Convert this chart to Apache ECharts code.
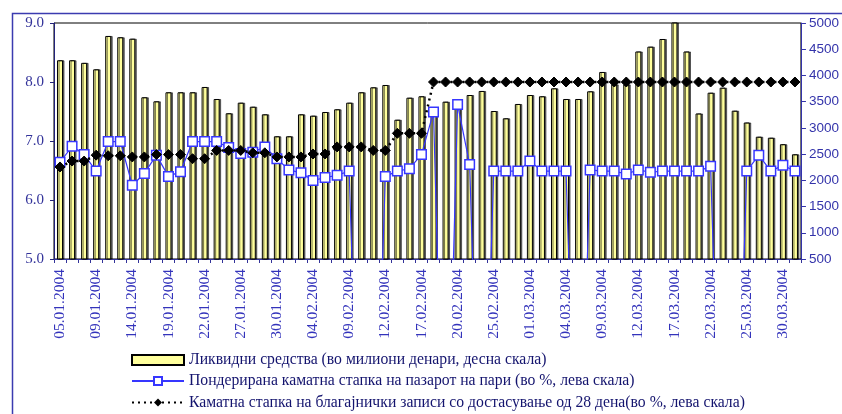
<!DOCTYPE html>
<html>
<head>
<meta charset="utf-8">
<script src="https://cdn.jsdelivr.net/npm/echarts@6/dist/echarts.min.js"></script>
<style>
html,body{margin:0;padding:0;background:#fff;}
#chart{width:842px;height:414px;}
</style>
</head>
<body>
<div id="chart"></div>
<script>
var categories = [
 '05.01.2004','06.01.2004','08.01.2004','09.01.2004','12.01.2004','13.01.2004','14.01.2004','15.01.2004','16.01.2004','19.01.2004',
 '20.01.2004','21.01.2004','22.01.2004','23.01.2004','26.01.2004','27.01.2004','28.01.2004','29.01.2004','30.01.2004',
 '02.02.2004','03.02.2004','04.02.2004','05.02.2004','06.02.2004','09.02.2004','10.02.2004','11.02.2004','12.02.2004','13.02.2004',
 '16.02.2004','17.02.2004','18.02.2004','19.02.2004','20.02.2004','23.02.2004','24.02.2004','25.02.2004','26.02.2004','27.02.2004',
 '01.03.2004','02.03.2004','03.03.2004','04.03.2004','05.03.2004','08.03.2004','09.03.2004','10.03.2004','11.03.2004','12.03.2004',
 '15.03.2004','16.03.2004','17.03.2004','18.03.2004','19.03.2004','22.03.2004','23.03.2004','24.03.2004','25.03.2004','26.03.2004',
 '29.03.2004','30.03.2004','31.03.2004'
];
var liquidity = [
 4290,4290,4240,4117,4753,4728,4701,3584,3507,3679,
 3679,3679,3780,3551,3279,3481,3404,3259,2840,2840,
 3259,3233,3303,3355,3481,3679,3774,3818,3156,3576,
 3603,3320,3500,3450,3627,3704,3322,3183,3456,3627,
 3603,3755,3551,3551,3698,4066,3830,3830,4457,4549,
 4695,5100,4457,3275,3671,3767,3328,3103,2832,2813,
 2689,2497
];
var weightedRate = [
 6.64,6.91,6.77,6.49,6.99,6.99,6.25,6.45,6.76,6.40,
 6.48,6.99,6.99,6.99,6.89,6.79,6.81,6.90,6.70,6.51,
 6.46,6.33,6.38,6.42,6.49,0,0,6.40,6.49,6.53,
 6.77,7.49,0,7.62,6.60,0,6.49,6.49,6.49,6.66,
 6.49,6.49,6.49,0,6.51,6.49,6.49,6.44,6.51,6.47,
 6.49,6.49,6.49,6.49,6.57,0,0,6.49,6.76,6.49,
 6.59,6.49
];
var billRate = [
 6.56,6.66,6.66,6.76,6.75,6.75,6.73,6.73,6.77,6.77,
 6.77,6.70,6.70,6.84,6.84,6.84,6.80,6.80,6.73,6.73,
 6.73,6.78,6.78,6.90,6.90,6.90,6.84,6.84,7.13,7.13,
 7.13,8.00,8.00,8.00,8.00,8.00,8.00,8.00,8.00,8.00,
 8.00,8.00,8.00,8.00,8.00,8.00,8.00,8.00,8.00,8.00,
 8.00,8.00,8.00,8.00,8.00,8.00,8.00,8.00,8.00,8.00,
 8.00,8.00
];
var seriesNames = [
 'Ликвидни средства (во милиони денари, десна скала)',
 'Пондерирана каматна стапка на пазарот на пари (во %, лева скала)',
 'Каматна стапка на благајнички записи со достасување од 28 дена(во %, лева скала)'
];

var axisBlue = '#33339a';
var legendText = {fontFamily: 'Liberation Serif', fontSize: 15.7, lineHeight: 16, color: '#14146e'};
function mkLegend(i, top, icon, h) {
  var l = {
    orient: 'horizontal', left: 131, top: top, itemWidth: 52, itemHeight: h || 12, itemGap: 0, padding: 0,
    textStyle: legendText, data: [seriesNames[i]]
  };
  if (icon) { l.data = [{name: seriesNames[i], icon: icon}]; }
  return l;
}
var chart = echarts.init(document.getElementById('chart'), null, {renderer:'canvas'});
chart.setOption({
  animation: false,
  backgroundColor: '#fff',
  graphic: [{
    type: 'rect', left: 10, top: 11, silent: true, z: -10,
    shape: {x: 0, y: 0, width: 900, height: 500},
    style: {fill: 'none', stroke: '#3b3bb0', lineWidth: 1.5}
  }],
  grid: {left: 54, right: 39, top: 23, bottom: 155, show: true, borderColor: '#000', borderWidth: 1},
  legend: [mkLegend(0, 352, 'rect', 10), mkLegend(1, 373, null, 10), mkLegend(2, 394.5, null, 10)],
  xAxis: {
    type: 'category', data: categories, boundaryGap: true,
    axisLine: {lineStyle: {color: axisBlue, width: 1}},
    axisTick: {show: true, interval: 0, length: 4, lineStyle: {color: axisBlue}},
    axisLabel: {interval: 2, rotate: 90, margin: 10, fontFamily: 'Liberation Serif', fontSize: 15.5, color: '#3333bb'}
  },
  yAxis: [{
    type: 'value', min: 5, max: 9, interval: 1, position: 'left',
    splitLine: {show: false},
    axisLine: {show: true, lineStyle: {color: '#22227a', width: 1}},
    axisTick: {show: true, length: 4, lineStyle: {color: '#22227a'}},
    axisLabel: {formatter: function(v){return v.toFixed(1);}, margin: 10, fontFamily: 'Liberation Serif', fontSize: 15, color: axisBlue}
  }, {
    type: 'value', min: 500, max: 5000, interval: 500, position: 'right',
    splitLine: {show: false},
    axisLine: {show: true, lineStyle: {color: '#3333aa', width: 1}},
    axisTick: {show: true, length: 5, lineStyle: {color: '#3333aa'}},
    axisLabel: {formatter: function(v){return String(v);}, margin: 8, fontFamily: 'Liberation Sans', fontSize: 13.5, color: '#3333aa'}
  }],
  series: [{
    name: seriesNames[0], type: 'bar', yAxisIndex: 1, data: liquidity, barWidth: 6, clip: true, z: 1,
    itemStyle: {color: '#ffff9c', borderColor: '#000', borderWidth: 1, shadowColor: 'rgba(0,0,0,0.55)', shadowOffsetX: 1.5, shadowOffsetY: 0, shadowBlur: 0}
  }, {
    name: seriesNames[1], type: 'line', yAxisIndex: 0, data: weightedRate, clip: true, z: 3,
    symbol: 'rect', symbolSize: 9.5, showAllSymbol: true,
    lineStyle: {color: '#3636ff', width: 1.2},
    itemStyle: {color: '#fff', borderColor: '#3636ff', borderWidth: 1.5}
  }, {
    name: seriesNames[2], type: 'line', yAxisIndex: 0, data: billRate, clip: true, z: 4,
    symbol: 'diamond', symbolSize: 10, showAllSymbol: true,
    lineStyle: {color: '#000', width: 2.5, type: [2, 4]},
    itemStyle: {color: '#000', borderColor: '#000'}
  }]
});
</script>
</body>
</html>
